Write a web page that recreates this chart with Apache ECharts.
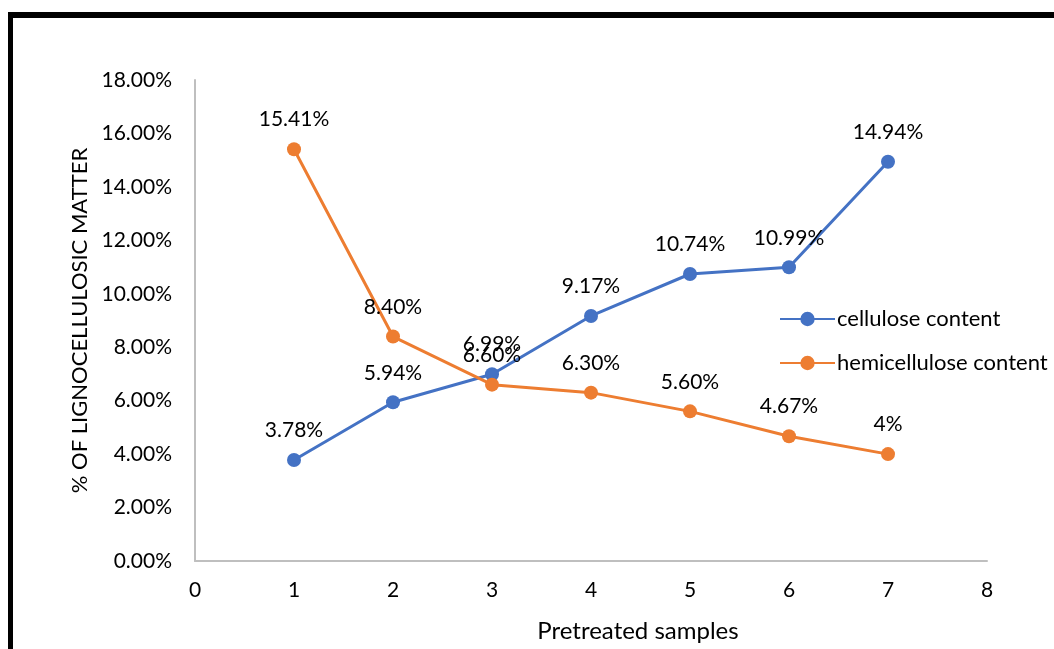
<!DOCTYPE html>
<html>
<head>
<meta charset="utf-8">
<script src="https://cdn.jsdelivr.net/npm/echarts@6/dist/echarts.min.js"></script>
<style>
  html, body { margin: 0; padding: 0; background: #ffffff; }
  #chart { width: 1054px; height: 649px; }
</style>
</head>
<body>
<div id="chart"></div>
<script>
// Pretreated sample numbers
const samples = [1, 2, 3, 4, 5, 6, 7];
// Composition in percent
const cellulose = [3.78, 5.94, 6.99, 9.17, 10.74, 10.99, 14.94];
const hemicellulose = [15.41, 8.40, 6.60, 6.30, 5.60, 4.67, 4];
// Text printed above each point
const celluloseLabels = ['3.78%', '5.94%', '6.99%', '9.17%', '10.74%', '10.99%', '14.94%'];
const hemicelluloseLabels = ['15.41%', '8.40%', '6.60%', '6.30%', '5.60%', '4.67%', '4%'];
const seriesNames = ['cellulose content', 'hemicellulose content'];

const FONT = 'Lato, "Open Sans", sans-serif';

function points(values) {
  return samples.map((s, i) => [s, values[i]]);
}

function makeSeries(name, values, labels, color) {
  return {
    name: name,
    type: 'line',
    data: points(values),
    symbol: 'circle',
    symbolSize: 14,
    lineStyle: { color: color, width: 3 },
    itemStyle: { color: color },
    label: {
      show: true,
      position: 'top',
      distance: 12,
      color: '#000',
      fontFamily: FONT,
      fontSize: 21,
      formatter: p => labels[p.dataIndex]
    },
    emphasis: { disabled: true },
    animation: false
  };
}

const chart = echarts.init(document.getElementById('chart'), null, { renderer: 'canvas' });
chart.setOption({
  backgroundColor: '#ffffff',
  animation: false,
  grid: { left: 195, right: 67, top: 80, bottom: 88, containLabel: false, outerBoundsMode: 'none' },
  xAxis: {
    type: 'value',
    min: 0, max: 8, interval: 1,
    name: 'Pretreated samples',
    nameLocation: 'middle',
    nameGap: 58,
    nameTextStyle: { fontFamily: FONT, fontSize: 24, color: '#000', padding: [0, 0, 0, 94] },
    axisLine: { show: true, lineStyle: { color: '#bfbfbf', width: 2 } },
    axisTick: { show: false },
    splitLine: { show: false },
    axisLabel: { fontFamily: FONT, fontSize: 21, color: '#000', margin: 19 }
  },
  yAxis: {
    type: 'value',
    min: 0, max: 18, interval: 2,
    name: '% OF LIGNOCELLULOSIC MATTER',
    nameLocation: 'middle',
    nameGap: 104,
    nameTextStyle: { fontFamily: FONT, fontSize: 22, color: '#000' },
    axisLine: { show: true, lineStyle: { color: '#bfbfbf', width: 2 } },
    axisTick: { show: false },
    splitLine: { show: false },
    axisLabel: {
      fontFamily: FONT, fontSize: 21, color: '#000', margin: 23,
      formatter: v => v.toFixed(2) + '%'
    }
  },
  legend: {
    orient: 'vertical',
    left: 779,
    top: 308,
    padding: 0,
    itemWidth: 55,
    itemHeight: 18,
    itemGap: 22,
    data: seriesNames,
    textStyle: { fontFamily: FONT, fontSize: 22, color: '#000', padding: [0, 0, 0, -3] }
  },
  graphic: [
    { type: 'rect', shape: { x: 8, y: 12, width: 1046, height: 6 }, style: { fill: '#000' }, silent: true },
    { type: 'rect', shape: { x: 8, y: 12, width: 5, height: 637 }, style: { fill: '#000' }, silent: true }
  ],
  series: [
    makeSeries(seriesNames[0], cellulose, celluloseLabels, '#4472C4'),
    makeSeries(seriesNames[1], hemicellulose, hemicelluloseLabels, '#ED7D31')
  ]
});
</script>
</body>
</html>
